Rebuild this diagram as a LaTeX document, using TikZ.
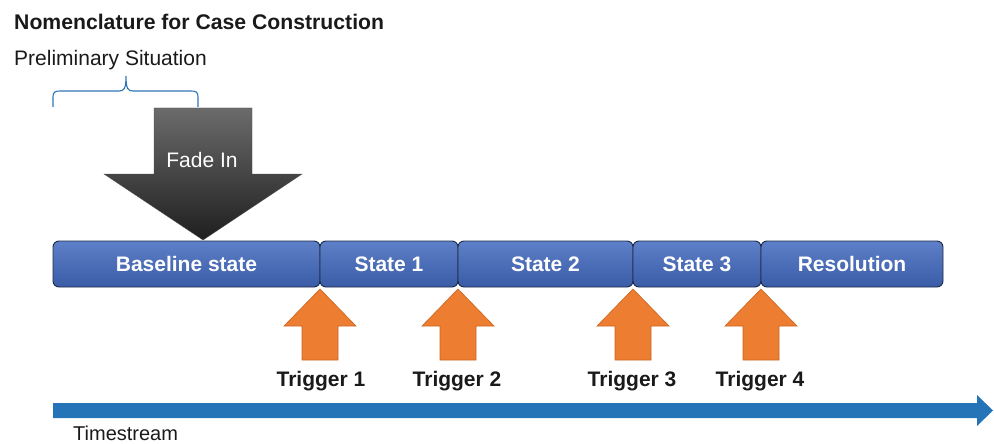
\documentclass[tikz,border=0pt]{standalone}
\usepackage{fontspec}
\setmainfont{Liberation Sans}
\usetikzlibrary{calc}
\definecolor{txt}{HTML}{1A1A1A}
\definecolor{braceblue}{HTML}{2E75B6}
\definecolor{timeblue}{HTML}{2574B7}
\definecolor{segtop}{HTML}{5E80C8}
\definecolor{segbot}{HTML}{3A5BA6}
\definecolor{segline}{HTML}{1C2A48}
\definecolor{orangefill}{HTML}{ED7D31}
\definecolor{orangeline}{HTML}{C8651F}
\begin{document}
\begin{tikzpicture}[x=1pt,y=-1pt,
  title/.style={font=\fontsize{21.2}{25}\selectfont\bfseries,text=txt,inner sep=0pt},
  plain/.style={font=\fontsize{21}{25}\selectfont,text=txt,inner sep=0pt},
  seg/.style={draw=segline,line width=0.9pt,rounded corners=6pt,top color=segtop,bottom color=segbot,
    minimum height=46pt,inner sep=0pt,text=white,font=\fontsize{21}{25}\selectfont\bfseries},
  trigarrow/.style={fill=orangefill,draw=orangeline,line width=0.6pt,line join=miter},
  triglabel/.style={font=\fontsize{21}{25}\selectfont\bfseries,text=txt,inner sep=0pt}
]
\useasboundingbox (0,0) rectangle (994,444);

% titles
\node[title,anchor=base west] (title) at (14,30) {Nomenclature for Case Construction};
\node[plain,anchor=base west] (prelim) at (14,66) {Preliminary Situation};

% brace
\draw[braceblue,line width=1.1pt] (53,107) -- (53,97) .. controls (53,92) and (55,91) .. (60,91)
  -- (119,91) .. controls (124,91) and (126,89) .. (126,76)
  .. controls (126,89) and (128,91) .. (133,91) -- (191,91)
  .. controls (196,91) and (198,92) .. (198,97) -- (198,107);

% fade-in arrow
\shade[top color=black!58,bottom color=black!88,draw=black!70,line width=0.4pt]
  (154,108) -- (252,108) -- (252,174) -- (302,174) -- (203,240) -- (104,174) -- (154,174) -- cycle;
\node[plain,text=white,anchor=base] (fade) at (202,167) {Fade In};

% state bar
\node[seg,minimum width=267pt] (base) at (186.5,264) {Baseline state};
\node[seg,minimum width=138pt] (s1) at (389,264) {State 1};
\node[seg,minimum width=175pt] (s2) at (545.5,264) {State 2};
\node[seg,minimum width=128pt] (s3) at (697,264) {State 3};
\node[seg,minimum width=182pt] (res) at (852,264) {Resolution};

% trigger arrows
\foreach \n/\x in {1/320,2/458,3/633,4/761}{
  \coordinate (t\n) at (\x,289);
  \draw[trigarrow] (t\n) -- ++(36,37) -- ++(-18,0) -- ++(0,34) -- ++(-36,0) -- ++(0,-34) -- ++(-18,0) -- cycle;
}
\node[triglabel,anchor=base] (l1) at (321,386) {Trigger 1};
\node[triglabel,anchor=base] (l2) at (457,386) {Trigger 2};
\node[triglabel,anchor=base] (l3) at (632,386) {Trigger 3};
\node[triglabel,anchor=base] (l4) at (760,386) {Trigger 4};

% timestream arrow
\fill[timeblue] (53,403) -- (977,403) -- (977,395) -- (993,410.5) -- (977,426) -- (977,418) -- (53,418) -- cycle;
\node[plain,font=\fontsize{20}{24}\selectfont,anchor=base west] (time) at (73,440) {Timestream};
\end{tikzpicture}
\end{document}
